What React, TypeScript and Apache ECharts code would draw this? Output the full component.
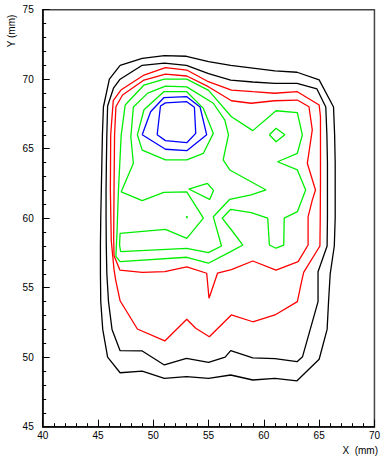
import React, { useEffect, useRef } from "react";
import * as echarts from "echarts";

type P = [number, number];

const xTicks = { min: 40, max: 70, step: 5 };
const yTicks = { min: 45, max: 75, step: 5 };

const blackOuter: P[] = [
  [47, 71.0], [49, 71.5], [51, 71.7], [53, 71.65], [55, 71.27], [57, 71.0], [59, 70.8], [61, 70.6], [63, 70.5],
  [65, 69.95], [66.3, 68.0], [66.4, 66], [66.45, 64], [66.45, 62], [66.45, 60], [66.37, 58], [66.0, 56],
  [65.85, 54], [65.72, 52], [65.0, 49.85], [63.0, 48.3], [61, 48.48], [59, 48.36], [57, 48.72], [55, 48.48],
  [53, 48.6], [51, 48.48], [49, 49.0], [47, 48.88], [45.87, 50], [45.43, 52], [45.25, 54], [45.22, 56],
  [45.22, 58], [45.25, 60], [45.3, 62], [45.35, 64], [45.4, 66], [45.49, 68], [46.03, 70], [47, 71.0],
];

const blackInner: P[] = [
  [47, 70.0], [49, 71.0], [51, 71.15], [53, 71.0], [55, 70.4], [57, 69.94], [59, 69.8], [61, 69.7], [63, 69.7],
  [64.8, 69.3], [65.6, 68], [65.7, 66], [65.75, 64], [65.75, 62], [65.75, 60], [65.72, 58], [64.9, 56.15],
  [64.9, 54], [63.5, 50.04], [63, 49.68], [61, 49.9], [59, 49.95], [57, 50.47], [56.5, 50.0], [55, 49.63],
  [53, 49.92], [51, 49.44], [49, 50.45], [47, 50.47], [46.27, 52], [45.95, 54], [45.8, 56], [45.75, 58],
  [45.73, 60], [45.73, 62], [45.76, 64], [45.8, 66], [45.87, 68.07], [46.4, 69.35], [47, 70.0],
];

const redOuter: P[] = [
  [47.07, 69.22], [49.16, 70.3], [51.1, 70.83], [53.03, 70.66], [54.98, 69.82], [57.07, 69.22], [59, 69.1],
  [60.95, 68.99], [63.03, 69.1], [65, 68.14], [65.12, 67.3], [65.12, 64], [65.12, 62.75], [65.1, 60],
  [65.07, 58], [63.6, 56.1], [63.4, 55.4], [63.03, 54], [61.0, 53.04], [59, 52.55], [57.06, 53.04],
  [55.07, 51.47], [53.84, 52.08], [53.03, 52.73], [51.04, 51.17], [48.56, 52.03], [47, 54.06], [46.6, 55.55],
  [46.45, 56.3], [46.2, 58.4], [46.12, 62], [46.15, 66], [46.27, 67.3], [46.38, 68.45], [47.07, 69.22],
];

const redInner: P[] = [
  [46.62, 68.02], [47.22, 68.86], [49.16, 69.94], [51.1, 70.37], [53.03, 70.23], [54.98, 69.46], [57.07, 68.45],
  [58.85, 68.27], [60.95, 68.45], [63.03, 68.5], [64.08, 68.02], [64.38, 66.35], [63.93, 63.95], [64.67, 62.03],
  [64.38, 61.3], [64.0, 60.1], [64.0, 58.07], [63.1, 56.87], [61.1, 56.27], [59, 56.92], [57.06, 56.3],
  [55.81, 56.04], [55.04, 54.24], [54.83, 56.04], [53.03, 56.5], [51.04, 56.15], [49, 56.1], [46.98, 56.27],
  [46.45, 57.3], [46.42, 58.5], [46.45, 62], [46.5, 66], [46.62, 68.02],
];

const greenOuter: P[] = [
  [47.46, 68.14], [49.16, 69.58], [51.0, 70.0], [53.03, 70.0], [55.0, 69.2], [57.07, 67.3], [59.0, 66.3],
  [61.1, 67.73], [63.03, 67.6], [63.48, 66.0], [63.03, 64.67], [61.24, 64.06], [63.03, 63.47], [63.78, 62.03],
  [63.03, 60.47], [61.84, 60.0], [61.8, 58.07], [61.1, 57.84], [60.5, 58.07], [60.35, 60.0], [58.85, 60.4],
  [57.0, 60.64], [56.23, 60.0], [57.07, 59.15], [58.1, 58.07], [57.0, 57.6], [54.98, 56.76], [53.03, 57.19],
  [47.0, 56.87], [46.62, 57.25], [46.72, 59.0], [46.85, 62.0], [47.1, 66.0], [47.46, 68.14],
];

const greenMid: P[] = [
  [49.5, 69.0], [51.1, 69.5], [53.03, 69.45], [55.43, 68.27], [56.47, 67.06], [56.8, 66.0], [56.32, 64.19],
  [56.92, 63.47], [58.56, 62.75], [60.2, 62.03], [58.85, 61.67], [56.92, 61.36], [55.43, 60.1], [56.17, 58.0],
  [54.98, 57.52], [53.03, 57.83], [47.05, 57.59], [46.95, 58.07], [47.0, 58.91], [51.1, 59.2], [53.03, 58.55],
  [54.53, 60.0], [53.03, 61.9], [50.95, 61.86], [49.0, 61.26], [47.1, 61.9], [48.2, 63.95], [47.97, 65.86],
  [48.2, 68.0], [49.5, 69.0],
];

const greenInner: P[] = [
  [48.56, 66.0], [49.16, 67.8], [50.95, 69.1], [53.03, 69.1], [54.53, 67.9], [55.43, 66.1], [54.53, 64.67],
  [53.03, 64.19], [51.1, 64.19], [49.0, 64.9], [48.56, 66.0],
];

const greenDiamond: P[] = [[60.5, 66.0], [61.1, 66.47], [61.9, 66.0], [61.1, 65.5], [60.5, 66.0]];
const greenTriangle: P[] = [[53.2, 62.1], [54.9, 62.5], [55.45, 62.0], [55.1, 61.35], [53.2, 62.1]];
const greenDot: P[] = [[52.98, 60.05], [53.09, 60.05], [53.03, 60.13], [52.98, 60.05]];

const blueOuter: P[] = [
  [49.0, 66.0], [49.76, 67.66], [50.95, 68.67], [53.03, 68.74], [54.23, 68.0], [54.83, 66.0], [53.03, 64.86],
  [51.1, 64.96], [49.0, 66.0],
];

const blueInner: P[] = [
  [50.35, 66.0], [50.65, 68.07], [51.1, 68.3], [53.03, 68.38], [53.72, 67.98], [53.84, 66.1], [53.03, 65.43],
  [51.1, 65.58], [50.35, 66.0],
];

const contours: { name: string; color: string; data: P[] }[] = [
  { name: "blackOuter", color: "#000000", data: blackOuter },
  { name: "blackInner", color: "#000000", data: blackInner },
  { name: "redOuter", color: "#ff0000", data: redOuter },
  { name: "redInner", color: "#ff0000", data: redInner },
  { name: "greenOuter", color: "#00ee00", data: greenOuter },
  { name: "greenMid", color: "#00ee00", data: greenMid },
  { name: "greenInner", color: "#00ee00", data: greenInner },
  { name: "greenDiamond", color: "#00ee00", data: greenDiamond },
  { name: "greenTriangle", color: "#00ee00", data: greenTriangle },
  { name: "greenDot", color: "#00ee00", data: greenDot },
  { name: "blueOuter", color: "#0000ff", data: blueOuter },
  { name: "blueInner", color: "#0000ff", data: blueInner },
];

const FONT = '"Liberation Sans", Arial, sans-serif';

export default function App() {
  const ref = useRef<HTMLDivElement>(null);
  useEffect(() => {
    if (!ref.current) return;
    const chart = echarts.init(ref.current, null, { renderer: "svg" });
    const axisCommon = {
      type: "value" as const,
      axisLine: { show: true, onZero: false, lineStyle: { color: "#000", width: 1.5 } },
      axisTick: { show: true, inside: true, length: 7, lineStyle: { color: "#000", width: 1 } },
      minorTick: { show: true, splitNumber: 5, length: 3.5, lineStyle: { color: "#000", width: 1 } },
      splitLine: { show: false },
      minorSplitLine: { show: false },
    };
    chart.setOption({
      animation: false,
      backgroundColor: "#ffffff",
      grid: {
        left: 42.7,
        right: 5.3,
        top: 9.7,
        bottom: 35.3,
        show: true,
        borderColor: "#444",
        borderWidth: 1.5,
        backgroundColor: "transparent",
      },
      xAxis: {
        ...axisCommon,
        min: xTicks.min,
        max: xTicks.max,
        interval: xTicks.step,
        axisLabel: { color: "#000", fontSize: 10, fontFamily: FONT, margin: 4 },
      },
      yAxis: {
        ...axisCommon,
        min: yTicks.min,
        max: yTicks.max,
        interval: yTicks.step,
        axisLabel: { color: "#000", fontSize: 10, fontFamily: FONT, margin: 9 },
      },
      graphic: [
        {
          type: "text",
          x: 11.5,
          y: 31,
          rotation: Math.PI / 2,
          style: { text: "Y (mm)", fill: "#000", font: `10px ${FONT}`, align: "center", verticalAlign: "middle" },
        },
        {
          type: "text",
          x: 378,
          y: 450,
          style: { text: "X  (mm)", fill: "#000", font: `10px ${FONT}`, align: "right", verticalAlign: "middle" },
        },
      ],
      series: contours.map((c) => ({
        type: "line",
        name: c.name,
        data: c.data,
        showSymbol: false,
        symbol: "none",
        silent: true,
        lineStyle: { color: c.color, width: 1.3 },
        z: 3,
      })),
    });
    return () => chart.dispose();
  }, []);
  return (
    <div
      ref={ref}
      style={{ position: "absolute", left: 0, top: 0, width: 383, height: 462, overflow: "hidden" }}
    />
  );
}
